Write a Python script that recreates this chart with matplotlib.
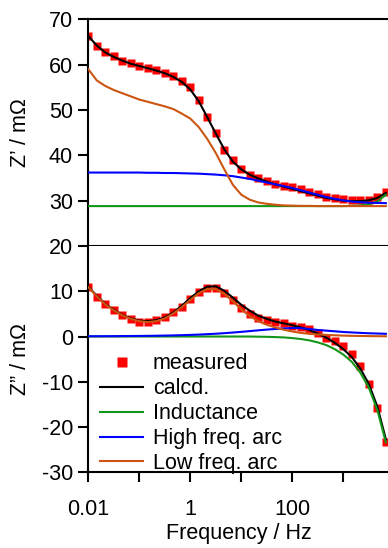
import matplotlib
matplotlib.use("Agg")
import matplotlib.pyplot as plt

plt.rcParams['font.family'] = ['Liberation Sans', 'DejaVu Sans']
plt.rcParams['axes.unicode_minus'] = False

freq = [0.01, 0.0147, 0.0215, 0.0316, 0.0464, 0.0681,
        0.1, 0.147, 0.215, 0.316, 0.464, 0.681,
        1.0, 1.47, 2.15, 3.16, 4.64, 6.81,
        10.0, 14.7, 21.5, 31.6, 46.4, 68.1,
        100.0, 147.0, 215.0, 316.0, 464.0, 681.0,
        1000.0, 1468.0, 2154.0, 3162.0, 4642.0, 6813.0]

# Z' (mOhm)
re_meas = [66.3, 64.1, 62.7, 61.8, 60.9, 60.3, 59.7, 59.3, 58.8, 58.2, 57.5, 56.5,
           55.0, 52.2, 48.5, 44.9, 41.2, 38.9, 37.0, 35.7, 35.0, 34.3, 33.7, 33.3,
           33.0, 32.5, 32.0, 31.4, 30.9, 30.6, 30.4, 30.2, 30.1, 30.2, 30.8, 31.8]
re_calc = [66.3, 64.2, 62.7, 61.7, 60.9, 60.2, 59.7, 59.2, 58.7, 58.1, 57.3, 56.2,
           54.5, 51.9, 48.4, 44.8, 41.3, 38.6, 36.9, 35.7, 34.9, 34.2, 33.6, 33.1,
           32.6, 32.1, 31.6, 31.1, 30.6, 30.3, 30.0, 29.9, 29.9, 30.1, 30.6, 31.7]
re_ind = [28.8] * 31 + [28.85, 28.95, 29.2, 29.8, 31.3]
re_high = [36.2, 36.2, 36.2, 36.2, 36.2, 36.2, 36.2, 36.15, 36.15, 36.1, 36.1, 36.05,
           36.0, 35.95, 35.85, 35.75, 35.6, 35.4, 35.1, 34.8, 34.4, 34.0, 33.6, 33.2,
           32.8, 32.3, 31.8, 31.3, 30.8, 30.4, 30.05, 29.8, 29.65, 29.55, 29.5, 29.45]
re_low = [59.0, 56.5, 55.3, 54.4, 53.7, 53.0, 52.3, 51.8, 51.3, 50.8, 50.2, 49.2,
          48.1, 46.2, 43.6, 40.5, 36.9, 33.5, 31.3, 30.2, 29.6, 29.3, 29.1, 28.95,
          28.9, 28.85, 28.85, 28.8, 28.8, 28.8, 28.8, 28.8, 28.8, 28.8, 28.8, 28.8]

# Z'' (mOhm)
im_meas = [11.0, 8.8, 7.1, 5.8, 4.8, 3.8, 3.3, 3.3, 3.6, 4.3, 5.4, 6.6,
           8.4, 9.9, 10.8, 10.7, 9.6, 8.1, 6.3, 4.9, 4.2, 3.7, 3.3, 2.9,
           2.4, 2.0, 1.6, 0.8, -0.35, -1.1, -2.05, -3.8, -6.5, -10.5, -15.8, -23.4]
im_calc = [11.0, 9.0, 7.2, 5.9, 4.8, 4.0, 3.5, 3.4, 3.6, 4.2, 5.3, 6.8,
           8.5, 10.0, 11.0, 11.1, 10.1, 8.6, 7.0, 5.7, 4.6, 3.9, 3.3, 2.9,
           2.5, 2.0, 1.45, 0.65, -0.25, -1.4, -2.8, -4.55, -7.1, -10.5, -15.5, -22.7]
im_ind = [0.0] * 20 + [-0.04, -0.07, -0.12, -0.2, -0.35, -0.55, -0.85, -1.3,
                       -1.9, -2.8, -4.0, -5.6, -8.0, -11.3, -16.3, -23.4]
im_high = [0.05, 0.06, 0.07, 0.08, 0.1, 0.11, 0.13, 0.15, 0.18, 0.21, 0.25, 0.3,
           0.36, 0.43, 0.52, 0.62, 0.74, 0.88, 1.03, 1.2, 1.37, 1.53, 1.67, 1.78,
           1.88, 1.85, 1.65, 1.45, 1.3, 1.15, 1.0, 0.9, 0.8, 0.72, 0.66, 0.6]
im_low = [10.9, 8.9, 7.1, 5.8, 4.7, 3.9, 3.4, 3.2, 3.4, 4.0, 5.1, 6.5,
          8.1, 9.6, 10.5, 10.5, 9.4, 7.8, 6.0, 4.5, 3.4, 2.6, 2.0, 1.5,
          1.1, 0.8, 0.6, 0.45, 0.35, 0.27, 0.2, 0.15, 0.12, 0.09, 0.07, 0.05]

labels = ['measured', 'calcd.', 'Inductance', 'High freq. arc', 'Low freq. arc']
c_meas = '#ff0000'
c_calc = '#000000'
c_ind = '#14961a'
c_high = '#0000ff'
c_low = '#cc5511'

W, H = 388, 548
fig = plt.figure(figsize=(W / 100, H / 100), dpi=100)
left = 88.3 / W
right = 1.0
ax1 = fig.add_axes([left, 1 - 246.0 / H, right - left, (246.0 - 19.3) / H])
ax2 = fig.add_axes([left, 1 - 472.3 / H, right - left, (472.3 - 246.0) / H], sharex=ax1)

lw = 1.5
ms = 6.3
for ax, m, c, i, h, l in [(ax1, re_meas, re_calc, re_ind, re_high, re_low),
                          (ax2, im_meas, im_calc, im_ind, im_high, im_low)]:
    ax.plot(freq, m, 's', color=c_meas, ms=ms, mec='none', label=labels[0], zorder=2)
    ax.plot(freq, c, '-', color=c_calc, lw=lw, label=labels[1], zorder=3)
    ax.plot(freq, i, '-', color=c_ind, lw=lw, label=labels[2], zorder=4)
    ax.plot(freq, h, '-', color=c_high, lw=lw, label=labels[3], zorder=4)
    ax.plot(freq, l, '-', color=c_low, lw=lw, label=labels[4], zorder=5)
    ax.set_xscale('log')
    ax.spines['right'].set_visible(False)
    for s in ax.spines.values():
        s.set_linewidth(1.5)
    ax.tick_params(axis='both', which='major', direction='out', length=7, width=1.5,
                   labelsize=15.5)
    ax.tick_params(axis='y', pad=4)
    ax.tick_params(axis='x', pad=12)
    ax.tick_params(which='minor', length=0)

ax1.set_xlim(0.01, 7500)
ax1.set_ylim(20, 70)
ax1.set_yticks([20, 30, 40, 50, 60, 70])
ax1.tick_params(axis='x', which='both', bottom=False, labelbottom=False)

ax2.set_ylim(-30, 20)
ax2.set_yticks([-30, -20, -10, 0, 10])
ax2.spines['top'].set_visible(False)
ax2.set_xticks([0.01, 0.1, 1, 10, 100, 1000])
ax2.set_xticklabels(['0.01', '', '1', '', '100', ''])

fig.text(21 / W, 1 - 133 / H, 'Z\u2019 / m\u03a9', rotation=90, ha='center', va='center', fontsize=15.5)
fig.text(21 / W, 1 - 359 / H, 'Z\u201d / m\u03a9', rotation=90, ha='center', va='center', fontsize=15.5)
fig.text(239 / W, 1 - 533 / H, 'Frequency / Hz', ha='center', va='center', fontsize=15.5)

ax2.legend(loc='upper left', bbox_to_anchor=(0.039, 0.525), frameon=False,
           fontsize=15.5, borderpad=0, borderaxespad=0, handlelength=2.0,
           handletextpad=0.46, labelspacing=0.18, markerscale=1.1)

fig.savefig('out.png', dpi=100)
